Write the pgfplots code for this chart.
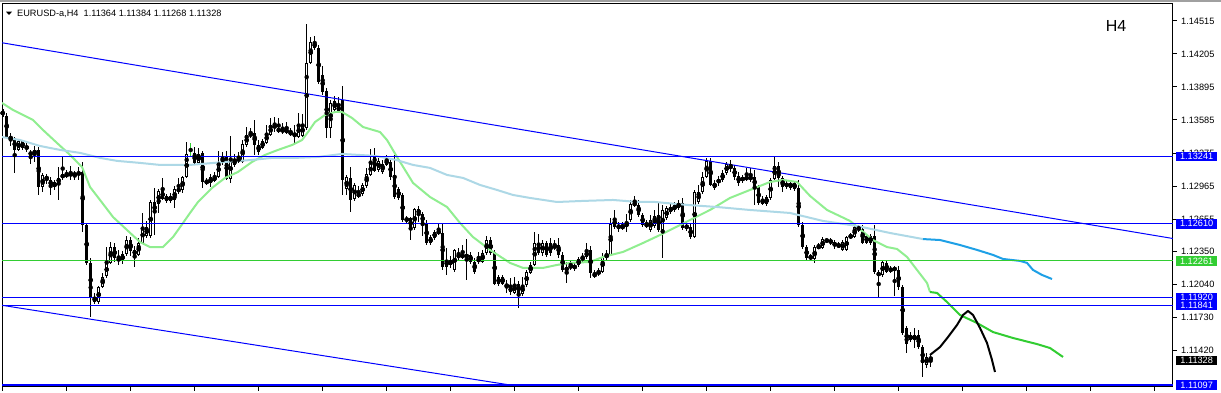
\documentclass[border=0pt]{standalone}
\usepackage{fontspec}
\setmainfont{Liberation Sans}
\usepackage{pgfplots}
\usepackage{pgfplotstable}
\pgfplotsset{compat=1.18}
\definecolor{mtblue}{RGB}{0,0,255}
\definecolor{mtgreen}{RGB}{50,205,50}
\definecolor{malight}{RGB}{144,238,144}
\definecolor{mablue}{RGB}{173,216,230}
\definecolor{mabright}{RGB}{30,160,230}
\definecolor{framegray}{RGB}{160,160,160}
\newcommand{\lbl}{\fontsize{9.2}{11}\selectfont}
\pgfplotstableread{
i o h l c
0 1.13688 1.13698 1.13604 1.13613
1 1.13623 1.13651 1.13416 1.13425
2 1.13425 1.13463 1.13341 1.13406
3 1.13416 1.13425 1.13088 1.13304
4 1.13304 1.13406 1.13295 1.13388
5 1.13388 1.13397 1.13304 1.13322
6 1.13331 1.13369 1.13285 1.13322
7 1.13285 1.13304 1.13172 1.13257
8 1.13266 1.13341 1.13191 1.13304
9 1.13304 1.13331 1.12881 1.12956
10 1.12956 1.13088 1.12909 1.13069
11 1.13022 1.13078 1.12984 1.13060
12 1.13022 1.13050 1.12881 1.12966
13 1.12956 1.13022 1.12928 1.13003
14 1.12994 1.13144 1.12834 1.13041
15 1.13041 1.13238 1.13022 1.13078
16 1.13078 1.13116 1.13041 1.13060
17 1.13060 1.13154 1.13022 1.13088
18 1.13088 1.13107 1.13022 1.13060
19 1.13069 1.13144 1.13022 1.13097
20 1.13097 1.13191 1.12533 1.12599
21 1.12599 1.12608 1.12224 1.12243
22 1.12243 1.12290 1.11735 1.11923
23 1.11923 1.11961 1.11857 1.11876
24 1.11876 1.12027 1.11857 1.12017
25 1.12017 1.12149 1.12008 1.12111
26 1.12121 1.12392 1.12102 1.12243
27 1.12243 1.12439 1.12233 1.12392
28 1.12392 1.12430 1.12252 1.12290
29 1.12290 1.12365 1.12224 1.12262
30 1.12262 1.12355 1.12233 1.12327
31 1.12327 1.12496 1.12309 1.12458
32 1.12458 1.12486 1.12309 1.12355
33 1.12365 1.12402 1.12205 1.12318
34 1.12318 1.12477 1.12309 1.12430
35 1.12430 1.12712 1.12420 1.12580
36 1.12496 1.12637 1.12477 1.12580
37 1.12496 1.12834 1.12477 1.12815
38 1.12815 1.12947 1.12505 1.12712
39 1.12796 1.12937 1.12712 1.12919
40 1.12928 1.13041 1.12834 1.12843
41 1.12872 1.12890 1.12806 1.12825
42 1.12825 1.12900 1.12806 1.12872
43 1.12834 1.12966 1.12759 1.12937
44 1.12919 1.13041 1.12890 1.12937
45 1.12928 1.13060 1.12900 1.13050
46 1.13050 1.13378 1.13041 1.13266
48 1.13276 1.13331 1.13172 1.13182
49 1.13182 1.13322 1.13163 1.13266
50 1.13276 1.13295 1.12947 1.13003
51 1.13013 1.13041 1.12975 1.12994
52 1.12994 1.13078 1.12956 1.13050
53 1.13013 1.13097 1.13003 1.13060
54 1.13050 1.13295 1.13041 1.13191
55 1.13238 1.13285 1.13163 1.13182
56 1.13238 1.13295 1.13022 1.13031
57 1.13031 1.13435 1.12994 1.13229
58 1.13163 1.13266 1.13144 1.13219
59 1.13191 1.13285 1.13182 1.13238
60 1.13191 1.13397 1.13182 1.13360
61 1.13350 1.13519 1.13331 1.13444
62 1.13463 1.13510 1.13416 1.13435
63 1.13463 1.13585 1.13257 1.13350
64 1.13350 1.13397 1.13257 1.13285
65 1.13322 1.13406 1.13313 1.13388
66 1.13369 1.13538 1.13360 1.13463
67 1.13444 1.13604 1.13435 1.13538
68 1.13538 1.13613 1.13472 1.13510
69 1.13510 1.13604 1.13463 1.13472
70 1.13500 1.13557 1.13453 1.13472
71 1.13491 1.13566 1.13453 1.13472
72 1.13472 1.13510 1.13435 1.13453
73 1.13463 1.13538 1.13350 1.13435
74 1.13425 1.13651 1.13416 1.13547
75 1.13435 1.13641 1.13425 1.13547
76 1.13510 1.14486 1.13491 1.14121
77 1.14121 1.14364 1.14111 1.14317
78 1.14261 1.14374 1.14243 1.14317
79 1.14261 1.14289 1.13923 1.13942
80 1.14008 1.14093 1.13820 1.13848
81 1.13857 1.13886 1.13416 1.13510
82 1.13510 1.13773 1.13416 1.13745
83 1.13679 1.13811 1.13660 1.13764
84 1.13660 1.13801 1.13651 1.13726
85 1.13773 1.13904 1.12881 1.13022
86 1.12937 1.13069 1.12881 1.13050
87 1.13041 1.13144 1.12721 1.12834
88 1.12843 1.12994 1.12825 1.12975
89 1.12890 1.12966 1.12853 1.12872
90 1.12890 1.12994 1.12872 1.12975
91 1.12966 1.13135 1.12947 1.13078
92 1.13069 1.13313 1.13060 1.13182
93 1.13238 1.13322 1.13097 1.13107
94 1.13116 1.13229 1.13097 1.13201
95 1.13097 1.13210 1.13078 1.13172
96 1.13163 1.13257 1.13154 1.13219
97 1.13191 1.13229 1.13022 1.13050
98 1.13069 1.13257 1.12843 1.12862
99 1.12937 1.12956 1.12834 1.12853
100 1.12881 1.12900 1.12627 1.12646
101 1.12637 1.12684 1.12618 1.12665
102 1.12665 1.12674 1.12458 1.12571
103 1.12571 1.12759 1.12552 1.12749
104 1.12749 1.12778 1.12627 1.12702
105 1.12702 1.12721 1.12496 1.12618
106 1.12618 1.12646 1.12411 1.12430
107 1.12430 1.12505 1.12411 1.12486
108 1.12477 1.12552 1.12458 1.12533
109 1.12543 1.12608 1.12505 1.12524
110 1.12524 1.12608 1.12177 1.12205
111 1.12205 1.12383 1.12130 1.12271
112 1.12271 1.12309 1.12196 1.12224
113 1.12177 1.12374 1.12158 1.12365
114 1.12318 1.12383 1.12271 1.12299
115 1.12299 1.12411 1.12280 1.12318
116 1.12318 1.12467 1.12083 1.12299
117 1.12318 1.12346 1.12233 1.12252
118 1.12252 1.12290 1.12139 1.12158
119 1.12252 1.12346 1.12233 1.12290
120 1.12252 1.12365 1.12243 1.12337
121 1.12337 1.12496 1.12318 1.12458
122 1.12458 1.12486 1.12318 1.12337
123 1.12346 1.12365 1.12036 1.12045
124 1.12045 1.12130 1.12027 1.12111
125 1.12111 1.12130 1.12036 1.12045
126 1.12045 1.12083 1.11961 1.12017
127 1.12017 1.12102 1.11942 1.11970
128 1.11961 1.12111 1.11951 1.12045
129 1.12045 1.12074 1.11820 1.11961
130 1.11951 1.12111 1.11932 1.12036
131 1.12036 1.12177 1.12017 1.12158
132 1.12149 1.12252 1.12139 1.12224
133 1.12224 1.12533 1.12214 1.12430
134 1.12430 1.12514 1.12318 1.12337
135 1.12337 1.12458 1.12309 1.12430
136 1.12430 1.12449 1.12299 1.12318
137 1.12430 1.12477 1.12309 1.12337
138 1.12383 1.12458 1.12365 1.12411
139 1.12411 1.12477 1.12290 1.12318
140 1.12318 1.12346 1.12158 1.12177
141 1.12177 1.12252 1.12055 1.12196
142 1.12224 1.12271 1.12177 1.12196
143 1.12186 1.12243 1.12168 1.12224
144 1.12224 1.12299 1.12205 1.12280
145 1.12271 1.12337 1.12252 1.12299
146 1.12299 1.12430 1.12280 1.12355
147 1.12365 1.12402 1.12102 1.12149
148 1.12149 1.12177 1.12102 1.12111
149 1.12168 1.12196 1.12121 1.12139
150 1.12158 1.12337 1.12149 1.12299
151 1.12290 1.12365 1.12271 1.12327
152 1.12318 1.12665 1.12309 1.12608
153 1.12665 1.12740 1.12561 1.12580
154 1.12599 1.12627 1.12533 1.12571
155 1.12571 1.12627 1.12552 1.12590
156 1.12627 1.12702 1.12533 1.12580
157 1.12646 1.12834 1.12627 1.12796
158 1.12787 1.12872 1.12768 1.12806
159 1.12787 1.12834 1.12674 1.12693
160 1.12693 1.12712 1.12580 1.12599
161 1.12590 1.12646 1.12571 1.12608
162 1.12552 1.12693 1.12533 1.12646
163 1.12590 1.12740 1.12571 1.12684
164 1.12693 1.12806 1.12533 1.12552
165 1.12552 1.12787 1.12290 1.12740
166 1.12665 1.12778 1.12646 1.12759
167 1.12721 1.12796 1.12702 1.12768
168 1.12740 1.12815 1.12721 1.12787
169 1.12759 1.12834 1.12740 1.12806
170 1.12806 1.12853 1.12552 1.12571
171 1.12590 1.12627 1.12543 1.12571
172 1.12580 1.12608 1.12467 1.12486
173 1.12486 1.12928 1.12477 1.12909
174 1.12815 1.12975 1.12796 1.12909
175 1.12909 1.13097 1.12890 1.13050
176 1.13050 1.13229 1.13041 1.13201
177 1.13201 1.13229 1.12966 1.12975
178 1.12994 1.13022 1.12928 1.12947
179 1.12994 1.13060 1.12966 1.13031
180 1.13022 1.13116 1.13003 1.13088
181 1.13088 1.13191 1.13069 1.13172
182 1.13163 1.13210 1.13097 1.13125
183 1.13135 1.13163 1.13022 1.13050
184 1.13060 1.13097 1.12966 1.12994
185 1.13013 1.13069 1.12994 1.13050
186 1.13050 1.13135 1.13013 1.13031
187 1.13050 1.13135 1.13003 1.13031
188 1.13050 1.13116 1.12787 1.12956
189 1.12956 1.12975 1.12787 1.12806
190 1.12843 1.12872 1.12787 1.12796
191 1.12796 1.12881 1.12778 1.12862
192 1.12853 1.13041 1.12834 1.13022
193 1.13031 1.13238 1.13022 1.13154
194 1.13154 1.13191 1.12956 1.13041
195 1.13041 1.13060 1.12909 1.12956
196 1.12956 1.13013 1.12937 1.12994
197 1.12994 1.13022 1.12928 1.12947
198 1.12937 1.13013 1.12919 1.12994
199 1.12947 1.13022 1.12580 1.12599
200 1.12599 1.12627 1.12374 1.12392
201 1.12392 1.12411 1.12271 1.12290
202 1.12309 1.12327 1.12271 1.12280
203 1.12280 1.12411 1.12243 1.12392
204 1.12383 1.12430 1.12374 1.12402
205 1.12383 1.12486 1.12374 1.12467
206 1.12467 1.12477 1.12430 1.12439
207 1.12458 1.12477 1.12411 1.12430
208 1.12439 1.12458 1.12374 1.12402
209 1.12392 1.12439 1.12383 1.12420
210 1.12365 1.12458 1.12355 1.12439
211 1.12365 1.12496 1.12355 1.12486
212 1.12477 1.12524 1.12467 1.12505
213 1.12486 1.12618 1.12477 1.12580
214 1.12580 1.12599 1.12533 1.12552
215 1.12561 1.12599 1.12420 1.12430
216 1.12430 1.12514 1.12420 1.12496
217 1.12430 1.12514 1.12411 1.12496
218 1.12496 1.12599 1.12139 1.12158
219 1.12158 1.12177 1.11914 1.12121
220 1.12130 1.12271 1.12111 1.12252
221 1.12243 1.12262 1.12149 1.12158
222 1.12186 1.12214 1.12149 1.12168
223 1.12177 1.12214 1.11932 1.12196
224 1.12177 1.12214 1.11989 1.12017
225 1.12017 1.12036 1.11566 1.11585
226 1.11632 1.11651 1.11398 1.11481
227 1.11519 1.11594 1.11500 1.11566
228 1.11519 1.11632 1.11444 1.11566
229 1.11566 1.11613 1.11434 1.11453
230 1.11453 1.11472 1.11172 1.11304
231 1.11285 1.11398 1.11257 1.11360
232 1.11364 1.11384 1.11268 1.11328
}\candles
\begin{document}
\begin{tikzpicture}
\fill[white] (0,0) rectangle (1221pt,393pt);
\fill[framegray] (0,391pt) rectangle (1221pt,393pt);
\begin{axis}[
  at={(2pt,6pt)}, anchor=south west,
  scale only axis, width=1171pt, height=383pt,
  xmin=-0.175, xmax=292.575, ymin=1.11078, ymax=1.14674,
  axis line style={black, line width=1pt},
  xtick pos=left, ytick pos=right,
  tick align=outside, major tick length=4pt,
  tick style={black, line width=1pt},
  xtick={0,16,...,288}, xticklabels={},
  scaled y ticks=false,
  ytick={1.11420,1.11730,1.12040,1.12350,1.12655,1.12965,1.13275,1.13585,1.13895,1.14205,1.14515},
  yticklabels={1.11420,1.11730,1.12040,1.12350,1.12655,1.12965,1.13275,1.13585,1.13895,1.14205,1.14515},
  yticklabel style={font=\lbl, anchor=west, inner sep=0pt, xshift=4pt},
]
% candles: wicks
\addplot[only marks, mark=none, forget plot,
  error bars/.cd, y dir=both, y explicit, error mark=none,
  error bar style={black, line width=1pt, solid}]
  table[x=i, y expr={(\thisrow{h}+\thisrow{l})/2}, y error expr={(\thisrow{h}-\thisrow{l})/2}] {\candles};
% bodies
\addplot[only marks, mark=none, forget plot,
  error bars/.cd, y dir=both, y explicit, error mark=none,
  error bar style={black, line width=3pt, solid, line cap=butt}]
  table[x=i, y expr={(\thisrow{o}+\thisrow{c})/2}, y error expr={max(abs(\thisrow{o}-\thisrow{c})/2,0.00005)}] {\candles};
% white interiors of rising candles
\addplot[only marks, mark=none, forget plot,
  error bars/.cd, y dir=both, y explicit, error mark=none,
  error bar style={white, line width=1pt, solid, line cap=butt}]
  table[x=i, y expr={(\thisrow{o}+\thisrow{c})/2}, y error expr={(\thisrow{c}>\thisrow{o})*max((\thisrow{c}-\thisrow{o})/2-0.0000939,0)}] {\candles};
% green doji
\addplot[only marks, mark=none, forget plot,
  error bars/.cd, y dir=both, y explicit, error mark=none,
  error bar style={mtgreen, line width=1pt, solid}]
  coordinates {(47,1.13303) +- (0,0.00066)};
% moving averages
\addplot[malight, line width=2pt, forget plot] coordinates {
(-0.18,1.13745) (2.58,1.13679) (7.58,1.13585) (10.08,1.13491) (13.58,1.13369) (16.83,1.13257) (19.83,1.13144) (21.83,1.12956) (24.33,1.12834) (27.58,1.12674) (31.08,1.12552) (34.33,1.12439) (36.83,1.12392) (40.08,1.12392) (42.58,1.12486) (45.08,1.12618) (46.83,1.12712) (48.83,1.12815) (52.33,1.12947) (55.58,1.13041) (58.83,1.13097) (62.33,1.13191) (65.58,1.13257) (68.83,1.13304) (72.33,1.13350) (74.83,1.13397) (76.33,1.13472) (78.08,1.13566) (80.58,1.13632) (83.08,1.13660) (84.83,1.13660) (87.33,1.13604) (90.08,1.13519) (94.33,1.13472) (96.08,1.13397) (98.58,1.13238) (102.58,1.12994) (106.83,1.12862) (111.08,1.12768) (114.33,1.12618) (117.58,1.12486) (121.83,1.12365) (126.83,1.12243) (130.08,1.12196) (135.08,1.12196) (138.58,1.12224) (141.83,1.12243) (146.83,1.12252) (150.08,1.12299) (155.08,1.12346) (160.08,1.12430) (164.33,1.12505) (166.83,1.12552) (171.83,1.12646) (176.83,1.12740) (181.83,1.12853) (186.83,1.12928) (191.83,1.13003) (195.08,1.13022) (198.58,1.13003) (201.83,1.12872) (206.08,1.12740) (211.83,1.12637) (217.58,1.12458) (221.08,1.12392) (223.58,1.12374) (226.08,1.12299) (228.58,1.12177) (231.08,1.12055) (231.83,1.11970)};
\addplot[mtgreen, line width=2pt, forget plot] coordinates {
(231.83,1.11970) (233.58,1.11961) (236.08,1.11876) (239.33,1.11754) (243.58,1.11679) (247.58,1.11594) (252.58,1.11538) (258.58,1.11481) (261.83,1.11444) (265.08,1.11360)};
\addplot[mablue, line width=2pt, forget plot] coordinates {
(-0.18,1.13425) (4.33,1.13397) (9.33,1.13341) (14.33,1.13304) (19.33,1.13276) (24.33,1.13229) (28.58,1.13201) (34.33,1.13182) (39.33,1.13163) (46.83,1.13163) (55.58,1.13191) (62.33,1.13210) (67.33,1.13229) (73.08,1.13229) (78.83,1.13238) (84.83,1.13266) (93.08,1.13248) (98.33,1.13210) (102.58,1.13163) (106.83,1.13135) (111.08,1.13069) (115.08,1.13041) (119.33,1.12975) (123.58,1.12928) (127.58,1.12881) (131.83,1.12853) (138.58,1.12815) (145.08,1.12825) (152.58,1.12834) (158.83,1.12815) (163.08,1.12815) (171.33,1.12787) (178.58,1.12768) (186.83,1.12740) (196.83,1.12712) (205.08,1.12637) (213.58,1.12590) (221.83,1.12524) (230.08,1.12467)};
\addplot[mabright, line width=2pt, forget plot] coordinates {
(230.08,1.12467) (234.33,1.12458) (239.33,1.12411) (243.58,1.12365) (247.58,1.12318) (250.08,1.12280) (254.33,1.12262) (256.08,1.12243) (257.58,1.12177) (259.83,1.12130) (262.33,1.12092)};
% drawn forecast
\addplot[black, line width=2pt, forget plot, line join=round] coordinates {
(231.83,1.11379) (234.33,1.11453) (236.33,1.11547) (238.58,1.11660) (240.08,1.11754) (241.33,1.11792) (242.58,1.11754) (244.33,1.11632) (246.08,1.11491) (247.33,1.11332) (248.08,1.11219)};
% horizontal levels
\addplot[mtblue, line width=1pt, forget plot] coordinates {(-1,1.13241) (300,1.13241)};
\addplot[mtblue, line width=1pt, forget plot] coordinates {(-1,1.12610) (300,1.12610)};
\addplot[mtgreen, line width=1pt, forget plot] coordinates {(-1,1.12261) (300,1.12261)};
\addplot[mtblue, line width=1pt, forget plot] coordinates {(-1,1.11920) (300,1.11920)};
\addplot[mtblue, line width=1pt, forget plot] coordinates {(-1,1.11841) (300,1.11841)};
\addplot[mtblue, line width=2pt, forget plot] coordinates {(-1,1.11097) (300,1.11097)};
% trend lines
\addplot[mtblue, line width=1pt, forget plot] coordinates {(-0.675,1.14313) (292.575,1.12472)};
\addplot[mtblue, line width=1pt, forget plot] coordinates {(-0.675,1.11848) (126.8,1.11097)};
\coordinate (b1) at (axis cs:292.575,1.13241);
\coordinate (b2) at (axis cs:292.575,1.12610);
\coordinate (b3) at (axis cs:292.575,1.12261);
\coordinate (b4) at (axis cs:292.575,1.11920);
\coordinate (b5) at (axis cs:292.575,1.11841);
\coordinate (b6) at (axis cs:292.575,1.11328);
\coordinate (b7) at (axis cs:292.575,1.11097);
\end{axis}
\tikzset{pricebox/.style={anchor=west, text=white, font=\lbl, inner sep=0pt, minimum width=41pt, minimum height=9.5pt}}
\node[pricebox, fill=mtblue] at ([xshift=3pt]b1) {1.13241};
\node[pricebox, fill=mtblue] at ([xshift=3pt]b2) {1.12610};
\node[pricebox, fill=mtgreen] at ([xshift=3pt]b3) {1.12261};
\node[pricebox, fill=mtblue] at ([xshift=3pt]b4) {1.11920};
\node[pricebox, fill=mtblue] at ([xshift=3pt]b5) {1.11841};
\node[pricebox, fill=black] at ([xshift=3pt]b6) {1.11328};
\node[pricebox, fill=mtblue] at ([xshift=3pt]b7) {1.11097};
% header
\fill[black] (6pt,381.3pt) -- (12pt,381.3pt) -- (9pt,378pt) -- cycle;
\node[anchor=base west, inner sep=0pt, font=\lbl] at (17pt,376.5pt) {EURUSD-a,H4\ \ 1.11364 1.11384 1.11268 1.11328};
\node[inner sep=0pt, font=\fontsize{16}{18}\selectfont] at (1116pt,367pt) {H4};
\pgfresetboundingbox
\path[use as bounding box] (0,0) rectangle (1221pt,393pt);
\end{tikzpicture}
\end{document}
